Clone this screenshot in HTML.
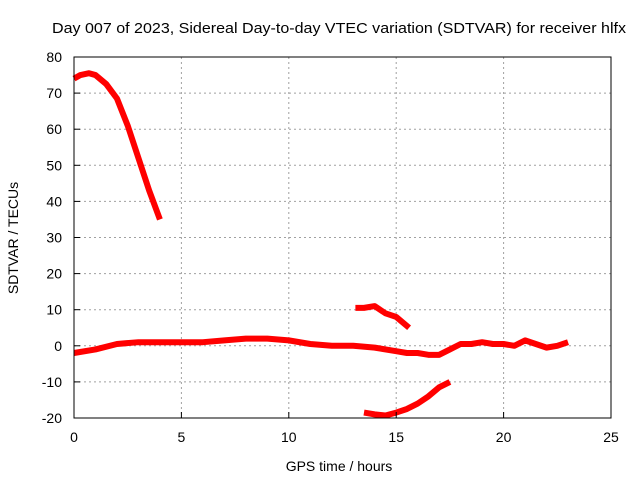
<!DOCTYPE html>
<html><head><meta charset="utf-8"><style>
body{margin:0;background:#fff;}
svg text{font-family:"Liberation Sans",sans-serif;font-size:14px;fill:#000;}
</style></head><body>
<svg id="c" width="640" height="480">
<text x="339" y="33" text-anchor="middle" textLength="574" lengthAdjust="spacingAndGlyphs" style="font-size:15px">Day 007 of 2023, Sidereal Day-to-day VTEC variation (SDTVAR) for receiver hlfx</text>
<text x="339" y="471" text-anchor="middle">GPS time / hours</text>
<text transform="translate(18,238) rotate(-90)" text-anchor="middle">SDTVAR / TECUs</text>
<g id="grid"></g><g id="series"></g><g id="axes"></g>
</svg>
<script>
const xTicks=[0,5,10,15,20,25];
const yTicks=[-20,-10,0,10,20,30,40,50,60,70,80];
const seg1X=[0,0.3,0.7,1.0,1.5,2,2.5,3,3.5,4];
const seg1Y=[74,75,75.5,75,72.5,68.5,61,52,43,35];
const mainX=[0,1,2,3,4,5,6,7,8,9,10,11,12,13,14,15,15.5,16,16.5,17,17.5,18,18.5,19,19.5,20,20.5,21,21.5,22,22.5,23];
const mainY=[-2,-1,0.5,1,1,1,1,1.5,2,2,1.5,0.5,0,0,-0.5,-1.5,-2,-2,-2.5,-2.5,-1,0.5,0.5,1,0.5,0.5,0,1.5,0.5,-0.5,0,1];
const upX=[13.1,13.5,14,14.5,15,15.6];
const upY=[10.5,10.5,11,9,8,5];
const lowX=[13.5,14,14.5,15,15.5,16,16.5,17,17.5];
const lowY=[-18.5,-19,-19.3,-18.5,-17.5,-16,-14,-11.5,-10];
const L=74,R=611,T=57,B=418;
const sx=v=>L+(v-0)/25*(R-L);
const sy=v=>B-(v+20)/100*(B-T);
const NS="http://www.w3.org/2000/svg";
function mk(t,a,p){const e=document.createElementNS(NS,t);for(const k in a)e.setAttribute(k,a[k]);p.appendChild(e);return e;}
const grid=document.getElementById('grid'),axes=document.getElementById('axes'),ser=document.getElementById('series');
xTicks.forEach(v=>{
 if(v>0&&v<25){const g=mk('line',{x1:sx(v),x2:sx(v),y1:T,y2:B,stroke:'#a0a0a0','stroke-dasharray':'2,3'},grid);
 
 }
 const t=mk('line',{x1:sx(v),x2:sx(v),y1:B,y2:B-6,stroke:'#000'},axes);
 
 
 const l=mk('text',{x:sx(v),y:B+24,'text-anchor':'middle'},axes);l.textContent=v;
 
 
});
yTicks.forEach(v=>{
 if(v>-20&&v<80){const g=mk('line',{x1:L,x2:R,y1:sy(v),y2:sy(v),stroke:'#a0a0a0','stroke-dasharray':'2,3'},grid);
 
 }
 const t=mk('line',{x1:L,x2:L+6,y1:sy(v),y2:sy(v),stroke:'#000'},axes);
 
 
 const l=mk('text',{x:L-12,y:sy(v)+5,'text-anchor':'end'},axes);l.textContent=v;
 
 
});
const fr=mk('rect',{x:L,y:T,width:R-L,height:B-T,fill:'none',stroke:'#000'},axes);


[[seg1X,seg1Y,'series-early-decline'],[mainX,mainY,'series-main'],[upX,upY,'series-upper-segment'],[lowX,lowY,'series-lower-segment']].forEach(([xs,ys,n])=>{
 const p=mk('polyline',{points:xs.map((x,i)=>sx(x)+','+sy(ys[i])).join(' '),fill:'none',stroke:'#ff0000','stroke-width':6,'stroke-linejoin':'round'},ser);
 
 
});
</script>
</body></html>
